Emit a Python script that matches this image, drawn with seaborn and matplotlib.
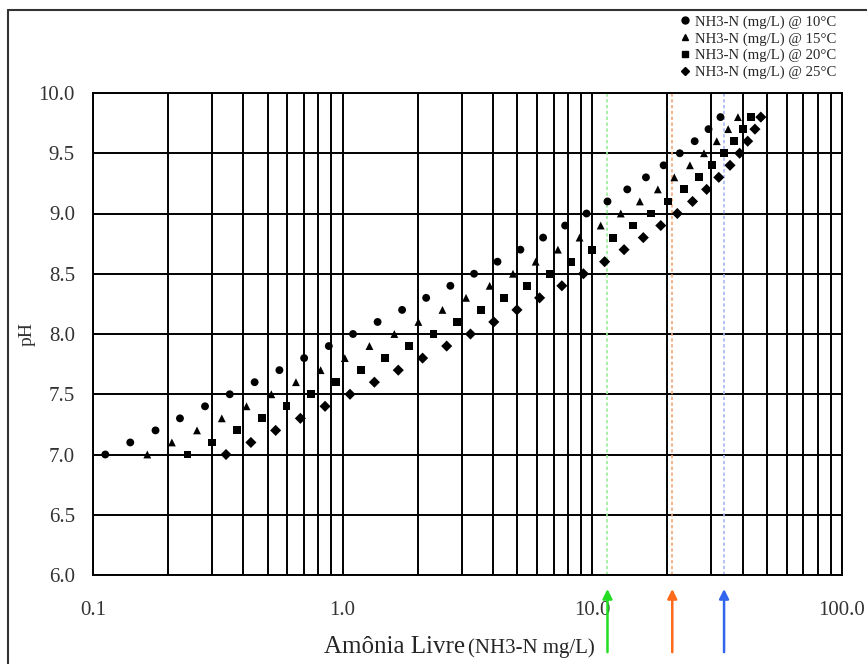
import numpy as np
import pandas as pd
import seaborn as sns
import matplotlib.pyplot as plt
from matplotlib.lines import Line2D

# pH de 7.0 a 9.8 (passo 0.1)
ph = [7.0, 7.1, 7.2, 7.3, 7.4, 7.5, 7.6, 7.7, 7.8, 7.9,
      8.0, 8.1, 8.2, 8.3, 8.4, 8.5, 8.6, 8.7, 8.8, 8.9,
      9.0, 9.1, 9.2, 9.3, 9.4, 9.5, 9.6, 9.7, 9.8]

# NH3-N (mg/L)
nh3_10 = [0.112, 0.141, 0.178, 0.223, 0.281, 0.353, 0.444, 0.558, 0.701, 0.880,
          1.10, 1.38, 1.73, 2.16, 2.70, 3.36, 4.17, 5.15, 6.35, 7.78,
          9.48, 11.5, 13.8, 16.4, 19.3, 22.4, 25.7, 29.2, 32.6]
nh3_15 = [0.165, 0.207, 0.261, 0.328, 0.412, 0.518, 0.650, 0.816, 1.02, 1.28,
          1.61, 2.01, 2.51, 3.12, 3.88, 4.81, 5.93, 7.28, 8.89, 10.8,
          13.0, 15.5, 18.3, 21.3, 24.6, 28.0, 31.5, 35.0, 38.3]
nh3_20 = [0.239, 0.300, 0.378, 0.475, 0.596, 0.749, 0.940, 1.18, 1.48, 1.85,
          2.31, 2.88, 3.58, 4.43, 5.48, 6.74, 8.24, 10.0, 12.1, 14.5,
          17.2, 20.1, 23.3, 26.7, 30.2, 33.7, 37.0, 40.2, 43.2]
nh3_25 = [0.341, 0.429, 0.539, 0.677, 0.850, 1.07, 1.34, 1.67, 2.09, 2.61,
          3.25, 4.03, 4.99, 6.15, 7.55, 9.21, 11.2, 13.4, 16.0, 18.8,
          21.9, 25.2, 28.7, 32.1, 35.6, 38.9, 41.9, 44.8, 47.3]

series = ["NH3-N (mg/L) @ 10°C", "NH3-N (mg/L) @ 15°C",
          "NH3-N (mg/L) @ 20°C", "NH3-N (mg/L) @ 25°C"]
marcadores = ["o", "^", "s", "D"]

# linhas de referencia com setas
ref_x = [11.5, 20.9, 33.7]
ref_cores = ["#22dd22", "#ff6a1a", "#3366ee"]
ref_linhas = ["#99ee99", "#f0a878", "#a8b8f0"]

df = pd.DataFrame({
    "x": nh3_10 + nh3_15 + nh3_20 + nh3_25,
    "pH": ph * 4,
    "serie": [s for s in series for _ in ph],
})

sns.set_style("white")
plt.rcParams["font.family"] = ["Liberation Serif", "DejaVu Serif"]

fig = plt.figure(figsize=(8.67, 6.64), dpi=100)
ax = fig.add_axes([93 / 867, 1 - 575 / 664, (842 - 93) / 867, (575 - 93) / 664])

sns.scatterplot(data=df, x="x", y="pH", style="serie", markers=dict(zip(series, marcadores)),
                color="black", s=32, edgecolor="none", legend=False, ax=ax, zorder=3)

ax.set_xscale("log")
ax.set_xlim(0.1, 100)
ax.set_ylim(6.0, 10.0)
ax.set_yticks(np.arange(6.0, 10.01, 0.5))
ax.set_yticklabels([f"{v:.1f}" for v in np.arange(6.0, 10.01, 0.5)])
ax.set_xticks([0.1, 1, 10, 100])
ax.set_xticklabels(["0.1", "1.0", "10.0", "100.0"])

ax.grid(True, which="major", color="black", lw=1.4)
ax.grid(True, which="minor", axis="x", color="black", lw=1.4)
ax.tick_params(axis="both", which="major", direction="out", length=7, width=1.3,
               labelsize=15, colors="black", labelcolor="#333333")
ax.tick_params(axis="x", which="major", pad=12)
ax.tick_params(axis="x", which="minor", length=0)
ax.tick_params(axis="y", pad=6)
for sp in ax.spines.values():
    sp.set_color("black")
    sp.set_linewidth(1.4)
    sp.set_visible(True)

ax.set_xlabel("")
ax.set_ylabel("pH", fontsize=14, color="#333333", labelpad=2)

# rotulo do eixo x em dois tamanhos
fig.text(465 / 867, 1 - 653 / 664, "Amônia Livre", fontsize=18, ha="right", va="baseline")
fig.text(468 / 867, 1 - 653 / 664, "(NH3-N mg/L)", fontsize=15, ha="left", va="baseline")

# linhas pontilhadas e setas
for xv, c, cl in zip(ref_x, ref_cores, ref_linhas):
    ax.axvline(xv, color=cl, lw=1.2, ls=(0, (2, 1.5)), zorder=2)
    ax.annotate("", xy=(xv, -0.029), xytext=(xv, -0.16),
                xycoords=("data", "axes fraction"), textcoords=("data", "axes fraction"),
                arrowprops=dict(arrowstyle="-|>", color=c, lw=1.8, mutation_scale=14,
                                shrinkA=0, shrinkB=0),
                annotation_clip=False)

# legenda
handles = [Line2D([], [], marker=m, color="black", ls="", markersize=5 if m != "D" else 4)
           for m in marcadores]
fig.legend(handles, series, loc="upper right", bbox_to_anchor=(847 / 867, 1 - 5 / 664),
           frameon=False, fontsize=10.6, handletextpad=0.2, labelspacing=0.22,
           handlelength=1.0, borderpad=0.2)

# moldura da figura (esquerda e topo)
fig.add_artist(Line2D([8 / 867, 8 / 867], [0, 1 - 10 / 664], color="#333333", lw=1.5))
fig.add_artist(Line2D([8 / 867, 1], [1 - 10 / 664, 1 - 10 / 664], color="#333333", lw=1.5))

fig.savefig("out.png", dpi=100)
